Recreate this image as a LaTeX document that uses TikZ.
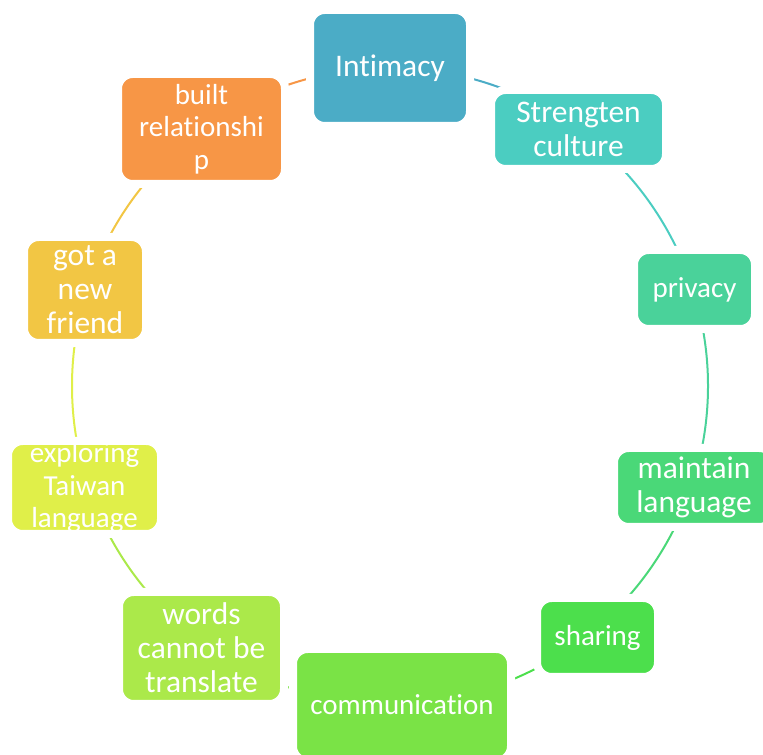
\documentclass[tikz,border=0pt]{standalone}
\usepackage{fontspec}
\setmainfont{Carlito}[Ligatures={NoCommon,NoContextual}]
\usetikzlibrary{backgrounds}

\definecolor{cIntimacy}{HTML}{4BACC6}
\definecolor{cCulture}{HTML}{4BCDC1}
\definecolor{cPrivacy}{HTML}{4AD29A}
\definecolor{cMaintain}{HTML}{4AD878}
\definecolor{cSharing}{HTML}{4CDF4C}
\definecolor{cComm}{HTML}{7AE346}
\definecolor{cWords}{HTML}{ABE94A}
\definecolor{cExplore}{HTML}{E0EF49}
\definecolor{cFriend}{HTML}{F2C644}
\definecolor{cBuilt}{HTML}{F79646}

\begin{document}
\begin{tikzpicture}[x=0.75pt,y=0.75pt,
  box/.style={rectangle, rounded corners=11pt, fill=#1, draw=white,
    line width=6pt, text=white, align=center, inner sep=0pt},
  big/.style={font=\fontsize{23.6pt}{25.5pt}\selectfont},
  small/.style={font=\fontsize{21.75pt}{24.5pt}\selectfont},
  link/.style={line width=1.5pt, draw=#1}]
\useasboundingbox (0,0) rectangle (763,755);

% the ten stages, clockwise from the top
\node[box=cIntimacy, big, minimum width=120pt, minimum height=87pt] (intimacy) at (390,687) {Intimacy};
\node[box=cCulture, big, minimum width=131.25pt, minimum height=59.25pt] (culture) at (578.5,625.5) {Strengten\\culture};
\node[box=cPrivacy, small, minimum width=90.75pt, minimum height=59.25pt] (privacy) at (694.5,465.5) {privacy};
\node[box=cMaintain, big, minimum width=120pt, minimum height=59.25pt] (maintain) at (694,267.5) {maintain\\language};
\node[box=cSharing, small, minimum width=90.75pt, minimum height=59.25pt] (sharing) at (597.5,117.5) {sharing};
\node[box=cComm, small, minimum width=163.5pt, minimum height=84pt] (comm) at (402,50) {communication};
\node[box=cWords, big, minimum width=123.75pt, minimum height=84pt] (words) at (201.5,107) {words\\cannot be\\translate};
\node[box=cExplore, small, minimum width=114.75pt, minimum height=69.75pt] (explore) at (84.5,267.5) {exploring\\Taiwan\\language};
\node[box=cFriend, big, minimum width=91.5pt, minimum height=79.5pt] (friend) at (85,465) {got a\\new\\friend};
\node[box=cBuilt, small, minimum width=125.25pt, minimum height=82.5pt] (built) at (201.5,626) {built\\relationshi\\p};

% circular connectors, each in the colour of the stage it leaves
\coordinate (hub) at (390,369);
\begin{pgfonlayer}{background}
  \draw[link=cIntimacy] (hub) ++(90:318)   arc[start angle=90,   end angle=54,   radius=318];
  \draw[link=cCulture]  (hub) ++(54:318)   arc[start angle=54,   end angle=18,   radius=318];
  \draw[link=cPrivacy]  (hub) ++(18:318)   arc[start angle=18,   end angle=-18,  radius=318];
  \draw[link=cMaintain] (hub) ++(-18:318)  arc[start angle=-18,  end angle=-54,  radius=318];
  \draw[link=cSharing]  (hub) ++(-54:318)  arc[start angle=-54,  end angle=-90,  radius=318];
  \draw[link=cComm]     (hub) ++(-90:318)  arc[start angle=-90,  end angle=-126, radius=318];
  \draw[link=cWords]    (hub) ++(-126:318) arc[start angle=-126, end angle=-162, radius=318];
  \draw[link=cExplore]  (hub) ++(-162:318) arc[start angle=-162, end angle=-198, radius=318];
  \draw[link=cFriend]   (hub) ++(-198:318) arc[start angle=-198, end angle=-234, radius=318];
  \draw[link=cBuilt]    (hub) ++(-234:318) arc[start angle=-234, end angle=-270, radius=318];
\end{pgfonlayer}
\end{tikzpicture}
\end{document}
